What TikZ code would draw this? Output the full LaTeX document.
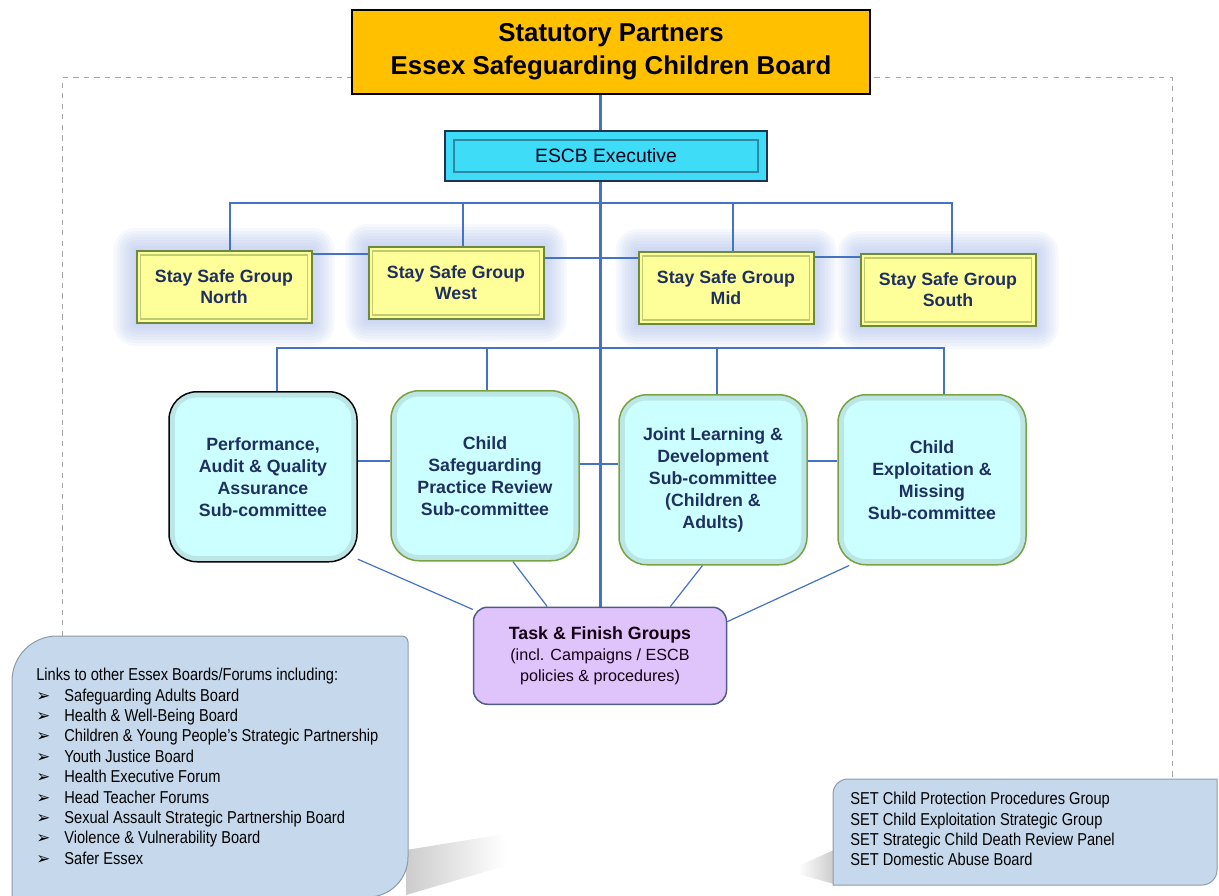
\documentclass[tikz,border=0pt]{standalone}
\usepackage{fontspec}
\setmainfont{Liberation Sans}
\newfontfamily\narrowfont[FakeStretch=0.85]{Liberation Sans}
\newfontfamily\arrowfont{DejaVu Sans}
\usetikzlibrary{positioning,backgrounds}
\newlength{\px}
\setlength{\px}{0.02cm}
\definecolor{boardorange}{HTML}{FFC000}
\definecolor{execcyan}{HTML}{3EDCF6}
\definecolor{execedge}{HTML}{1F3350}
\definecolor{safeyellow}{HTML}{FFFF99}
\definecolor{safeedge}{HTML}{6E8B3D}
\definecolor{glowblue}{HTML}{9AAFE4}
\definecolor{subfill}{HTML}{CCFFFF}
\definecolor{subedge}{HTML}{77A33F}
\definecolor{taskfill}{HTML}{DFC3FB}
\definecolor{taskedge}{HTML}{4F5D86}
\definecolor{panelfill}{HTML}{C6D9EC}
\definecolor{paneledge}{HTML}{8C9BAA}
\definecolor{linkblue}{HTML}{4472C4}
\definecolor{navy}{HTML}{1F3060}
\newcommand{\boarditem}[1]{\makebox[28\px][l]{\arrowfont\fontsize{9.5}{9.5}\selectfont ➢}#1}
\tikzset{
  board/.style={draw=black, line width=2\px, fill=boardorange, minimum width=518\px,
    minimum height=84\px, align=center, font=\bfseries\fontsize{14.7}{18.7}\selectfont},
  exec/.style={draw=execedge, line width=2\px, fill=execcyan, minimum width=322\px,
    minimum height=50\px, text=black!90!blue, font=\fontsize{11}{13}\selectfont},
  staysafe/.style={draw=safeedge, line width=2\px, fill=safeyellow, minimum width=175\px,
    minimum height=72\px, align=center, text=navy, font=\bfseries\fontsize{10.1}{12}\selectfont},
  subcom/.style={draw=subedge, line width=1.5\px, fill=subfill, rounded corners=28\px,
    minimum width=188\px, minimum height=170\px, align=center, text=navy,
    font=\bfseries\fontsize{10.1}{12.5}\selectfont},
  task/.style={draw=taskedge, line width=1.5\px, fill=taskfill, rounded corners=14\px,
    minimum width=253\px, minimum height=97\px, align=center, text=black!85!violet,
    font=\fontsize{9.2}{12}\selectfont},
  panel/.style={fill=panelfill, draw=paneledge, line width=1\px},
  panetext/.style={inner sep=0pt, align=left, font=\narrowfont\fontsize{9.8}{11.6}\selectfont},
  link/.style={draw=linkblue, line width=2.2\px},
  trunk/.style={draw=linkblue, line width=3\px},
  twig/.style={draw=linkblue, line width=1.2\px},
  dashframe/.style={draw=gray!70, line width=1\px, dashed},
}
\begin{document}
\begin{tikzpicture}[x=1\px, y=-1\px]
    \useasboundingbox (0,0) rectangle (1219,895);

    % Board nodes
    \node[board] (board) at (611,52) {Statutory Partners\\Essex Safeguarding Children Board};
    \node[exec, below=35\px of board, xshift=-5\px] (exec) {ESCB Executive};

    % Stay safe groups
    \node[staysafe, below=68\px of exec, xshift=-382\px] (north) {Stay Safe Group\\North};
    \node[staysafe, below=64\px of exec, xshift=-150\px] (west) {Stay Safe Group\\West};
    \node[staysafe, below=69\px of exec, xshift=120\px] (mid) {Stay Safe Group\\Mid};
    \node[staysafe, below=71\px of exec, xshift=342\px] (south) {Stay Safe Group\\South};

    % Sub-committees
    \node[subcom, draw=black, below=67\px of north, xshift=39\px] (paqa) {Performance,\\Audit \& Quality\\Assurance\\Sub-committee};
    \node[subcom, below=70\px of west, xshift=29\px] (cspr) {Child\\Safeguarding\\Practice Review\\Sub-committee};
    \node[subcom, below=69\px of mid, xshift=-13\px] (jld) {Joint Learning \&\\Development\\Sub-committee\\(Children \&\\Adults)};
    \node[subcom, below=67\px of south, xshift=-16\px] (cem) {Child\\Exploitation \&\\Missing\\Sub-committee};

    % Task & finish
    \node[task, below=45\px of cspr, xshift=115\px] (task) {{\bfseries\fontsize{10.1}{12}\selectfont Task \& Finish Groups}\\(incl. Campaigns / ESCB\\policies \& procedures)};

    % Other boards
    \node[panetext, anchor=north west] (links) at (36,668) {Links to other Essex Boards/Forums including:\\
      \boarditem{Safeguarding Adults Board}\\
      \boarditem{Health \& Well-Being Board}\\
      \boarditem{Children \& Young People’s Strategic Partnership}\\
      \boarditem{Youth Justice Board}\\
      \boarditem{Health Executive Forum}\\
      \boarditem{Head Teacher Forums}\\
      \boarditem{Sexual Assault Strategic Partnership Board}\\
      \boarditem{Violence \& Vulnerability Board}\\
      \boarditem{Safer Essex}};
    \node[panetext, anchor=north west] (set) at (850,792) {SET Child Protection Procedures Group\\
      SET Child Exploitation Strategic Group\\
      SET Strategic Child Death Review Panel\\
      SET Domestic Abuse Board};

    % Bus and frame points
    \coordinate[below=21\px of exec] (bus1);
    \coordinate[below=28\px of west] (bus2);
    \coordinate (linkstop) at (62,636);
    \coordinate (settop) at (1172,780);
    \coordinate (frameNW) at (62,78);
    \coordinate (frameNE) at (1172,78);
    \path ([xshift=6\px]north.north) coordinate (dropN) ([xshift=7\px]west.north) coordinate (dropW)
          ([xshift=7\px]mid.north) coordinate (dropM) ([xshift=4\px]south.north) coordinate (dropS);
    \path ([xshift=14\px]paqa.north) coordinate (dropA) ([xshift=2\px]cspr.north) coordinate (dropB)
          ([xshift=4\px]jld.north) coordinate (dropC) ([xshift=12\px]cem.north) coordinate (dropD);

    \begin{scope}[on background layer]
      % Shadows
      \shade[left color=gray!40, right color=white] (406,850) -- (505,834) -- (505,866) -- (406,895) -- cycle;
      \shade[left color=white, right color=gray!40] (798,866) -- (834,850) -- (834,884) -- (798,874) -- cycle;
      % Panels
      \path[panel] (12,897) [rounded corners=45\px] -- (12,636) -- (200,636) [rounded corners=6\px] -- (408,636)
        -- (408,780) [rounded corners=40\px] -- (408,897) -- (200,897) [sharp corners] -- cycle;
      \path[panel] (833,885) [rounded corners=15\px] -- (833,779) -- (1000,779) [sharp corners] -- (1217,779)
        -- (1217,820) [rounded corners=15\px] -- (1217,885) -- (1000,885) [sharp corners] -- cycle;
      \draw[dashframe] (linkstop) -- (frameNW) -- (frameNE) -- (settop);
      % Glow
      \foreach \n in {north,west,mid,south}
        \foreach \r in {22,19,...,1}
          \fill[glowblue, opacity=0.085, rounded corners=\r\px] ([shift={(-\r,\r)}]\n.south west) rectangle ([shift={(\r,-\r)}]\n.north east);
      % Connectors
      \draw[trunk] (board.south -| task.north) -- (task.north);
      \draw[link] (dropN) -- (dropN |- bus1) -- (dropS |- bus1) -- (dropS);
      \draw[link] (dropW) -- (dropW |- bus1);
      \draw[link] (dropM) -- (dropM |- bus1);
      \draw[link] ([yshift=-4\px]north.north east) coordinate (ln) -- (ln -| west.west);
      \draw[link] ([yshift=-12\px]west.north east) coordinate (ln) -- (ln -| mid.west);
      \draw[link] ([yshift=-6\px]mid.north east) coordinate (ln) -- (ln -| south.west);
      \draw[link] (dropA) -- (dropA |- bus2) -- (dropD |- bus2) -- (dropD);
      \draw[link] (dropB) -- (dropB |- bus2);
      \draw[link] (dropC) -- (dropC |- bus2);
      \draw[link] ([yshift=16\px]paqa.east) coordinate (ln) -- (ln -| cspr.west);
      \draw[link] ([yshift=12\px]cspr.east) coordinate (ln) -- (ln -| jld.west);
      \draw[link] ([yshift=19\px]jld.east) coordinate (ln) -- (ln -| cem.west);
      \draw[twig] (paqa.-41) -- (task.160);
      \draw[twig] (cspr.-72) -- (task.137);
      \draw[twig] (jld.-97) -- (task.35);
      \draw[twig] (cem.-134) -- (task.15);
    \end{scope}

    % Bevels
    \draw[execedge!50!execcyan, line width=1.2\px] ([shift={(10,-10)}]exec.south west) rectangle ([shift={(-10,10)}]exec.north east);
    \foreach \n in {north,west,mid,south}
      \draw[safeedge!45!safeyellow, line width=1.2\px] ([shift={(5,-5)}]\n.south west) rectangle ([shift={(-5,5)}]\n.north east);
    \foreach \n in {paqa,cspr,jld,cem}
      \draw[gray, opacity=0.2, line width=5\px, rounded corners=24\px] ([shift={(4,-4)}]\n.south west) rectangle ([shift={(-4,4)}]\n.north east);
\end{tikzpicture}
\end{document}
